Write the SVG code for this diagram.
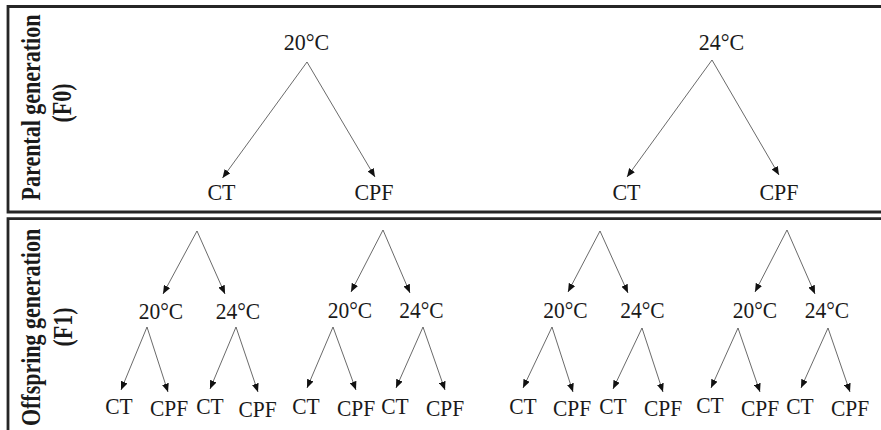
<svg xmlns="http://www.w3.org/2000/svg" width="881" height="430" viewBox="0 0 881 430">
<style>
.frame{fill:none;stroke:#262626;stroke-width:2.8}
.t{font-family:"Liberation Serif","Times New Roman",serif;font-size:21.5px;fill:#1a1a1a;text-anchor:middle}
.big{font-size:22px}
.h{font-family:"Liberation Serif","Times New Roman",serif;font-size:22px;font-weight:bold;fill:#1a1a1a;text-anchor:middle}
.c line{stroke:#444;stroke-width:0.8;marker-end:url(#ah)}
</style>
<defs>
<marker id="ah" markerUnits="userSpaceOnUse" markerWidth="9" markerHeight="7" refX="8.5" refY="3.5" orient="auto">
<path d="M0,0 L8.5,3.5 L0,7 z" fill="#111"/>
</marker>
</defs>
<rect width="881" height="430" fill="#fff"/>
<g id="panel-f0">
<path class="frame" d="M881,6.5 H8 V212 H881"/>
<text class="h" transform="translate(39.5,107.5) rotate(-90) scale(1,1.28)">Parental generation</text>
<text class="h" transform="translate(70.5,103) rotate(-90) scale(1,1.28)">(F0)</text>
</g>
<g id="panel-f1">
<path class="frame" d="M881,218.7 H8 V430"/>
<text class="h" transform="translate(39.5,327.5) rotate(-90) scale(1,1.28)">Offspring generation</text>
<text class="h" transform="translate(71.5,327) rotate(-90) scale(1,1.28)">(F1)</text>
</g>
<g id="connectors" class="c">
<line x1="307" y1="62" x2="222.5" y2="178"/>
<line x1="307" y1="62" x2="375" y2="177"/>
<line x1="712" y1="60" x2="627" y2="177"/>
<line x1="712" y1="60" x2="779" y2="175"/>
<line x1="197" y1="231" x2="163" y2="294"/>
<line x1="197" y1="231" x2="225" y2="294"/>
<line x1="147" y1="327" x2="121" y2="390"/>
<line x1="147" y1="327" x2="168" y2="392"/>
<line x1="236" y1="327" x2="210" y2="389"/>
<line x1="236" y1="327" x2="258" y2="392"/>
<line x1="383" y1="230" x2="351" y2="292"/>
<line x1="383" y1="230" x2="410" y2="293"/>
<line x1="333" y1="327" x2="307" y2="388"/>
<line x1="333" y1="327" x2="356" y2="390"/>
<line x1="423" y1="327" x2="396" y2="388"/>
<line x1="423" y1="327" x2="445" y2="390"/>
<line x1="600" y1="231" x2="568" y2="292"/>
<line x1="600" y1="231" x2="628" y2="293"/>
<line x1="552" y1="327" x2="523" y2="388"/>
<line x1="552" y1="327" x2="573" y2="392"/>
<line x1="642" y1="328" x2="613" y2="389"/>
<line x1="642" y1="328" x2="663" y2="392"/>
<line x1="787" y1="230" x2="755" y2="292"/>
<line x1="787" y1="230" x2="815" y2="294"/>
<line x1="738" y1="328" x2="711" y2="388"/>
<line x1="738" y1="328" x2="760" y2="392"/>
<line x1="828" y1="328" x2="801" y2="388"/>
<line x1="828" y1="328" x2="850" y2="392"/>
</g>
<g id="f0-20"><text class="t big" transform="translate(306.5,50) scale(1,1.08)">20°C</text></g>
<g id="f0-20-ct"><text class="t big" transform="translate(221.5,200) scale(1,1.08)">CT</text></g>
<g id="f0-20-cpf"><text class="t big" transform="translate(374,200) scale(1,1.08)">CPF</text></g>
<g id="f0-24"><text class="t big" transform="translate(721.5,50) scale(1,1.08)">24°C</text></g>
<g id="f0-24-ct"><text class="t big" transform="translate(626.5,200) scale(1,1.08)">CT</text></g>
<g id="f0-24-cpf"><text class="t big" transform="translate(779,200) scale(1,1.08)">CPF</text></g>
<g id="f1-a-20"><text class="t" transform="translate(161,319) scale(1,1.08)">20°C</text></g>
<g id="f1-a-24"><text class="t" transform="translate(238,319) scale(1,1.08)">24°C</text></g>
<g id="f1-a-20-ct"><text class="t" transform="translate(119,414) scale(1,1.08)">CT</text></g>
<g id="f1-a-20-cpf"><text class="t" transform="translate(169,416) scale(1,1.08)">CPF</text></g>
<g id="f1-a-24-ct"><text class="t" transform="translate(210,414) scale(1,1.08)">CT</text></g>
<g id="f1-a-24-cpf"><text class="t" transform="translate(257.5,417) scale(1,1.08)">CPF</text></g>
<g id="f1-b-20"><text class="t" transform="translate(350,318) scale(1,1.08)">20°C</text></g>
<g id="f1-b-24"><text class="t" transform="translate(421.5,318) scale(1,1.08)">24°C</text></g>
<g id="f1-b-20-ct"><text class="t" transform="translate(306,414) scale(1,1.08)">CT</text></g>
<g id="f1-b-20-cpf"><text class="t" transform="translate(356,416) scale(1,1.08)">CPF</text></g>
<g id="f1-b-24-ct"><text class="t" transform="translate(395,414) scale(1,1.08)">CT</text></g>
<g id="f1-b-24-cpf"><text class="t" transform="translate(445,416) scale(1,1.08)">CPF</text></g>
<g id="f1-c-20"><text class="t" transform="translate(565.5,318) scale(1,1.08)">20°C</text></g>
<g id="f1-c-24"><text class="t" transform="translate(642.5,318) scale(1,1.08)">24°C</text></g>
<g id="f1-c-20-ct"><text class="t" transform="translate(523,414) scale(1,1.08)">CT</text></g>
<g id="f1-c-20-cpf"><text class="t" transform="translate(572,416) scale(1,1.08)">CPF</text></g>
<g id="f1-c-24-ct"><text class="t" transform="translate(613,414) scale(1,1.08)">CT</text></g>
<g id="f1-c-24-cpf"><text class="t" transform="translate(663,416) scale(1,1.08)">CPF</text></g>
<g id="f1-d-20"><text class="t" transform="translate(755,318) scale(1,1.08)">20°C</text></g>
<g id="f1-d-24"><text class="t" transform="translate(827,318) scale(1,1.08)">24°C</text></g>
<g id="f1-d-20-ct"><text class="t" transform="translate(710,413) scale(1,1.08)">CT</text></g>
<g id="f1-d-20-cpf"><text class="t" transform="translate(760,416) scale(1,1.08)">CPF</text></g>
<g id="f1-d-24-ct"><text class="t" transform="translate(800,414) scale(1,1.08)">CT</text></g>
<g id="f1-d-24-cpf"><text class="t" transform="translate(850,416) scale(1,1.08)">CPF</text></g>
</svg>
